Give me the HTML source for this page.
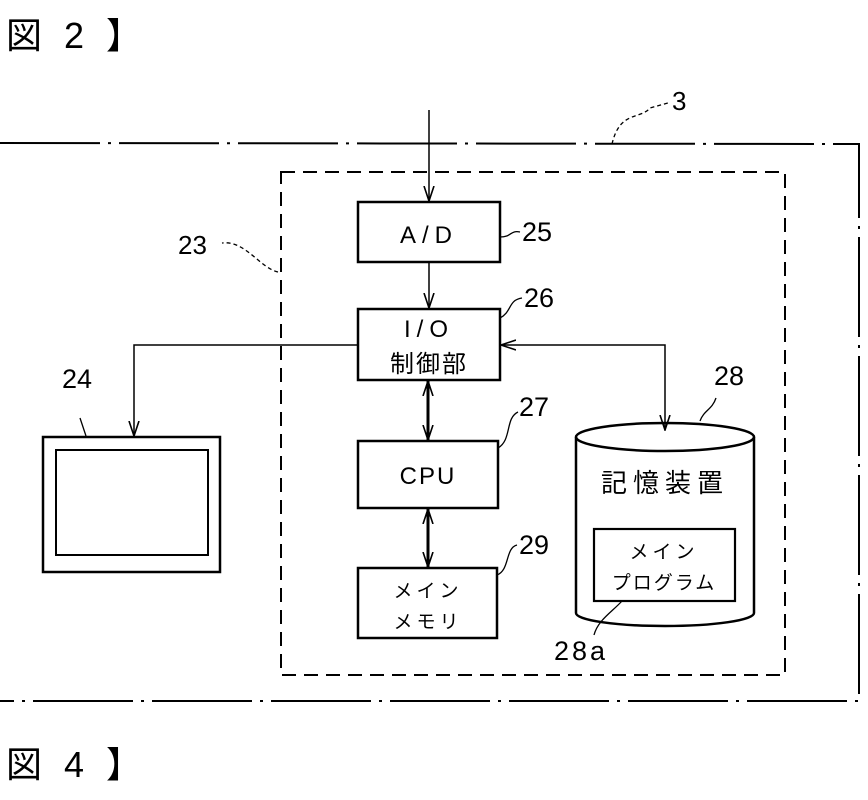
<!DOCTYPE html>
<html><head><meta charset="utf-8"><style>
body{margin:0;background:#fff;}
svg text{font-family:"Liberation Sans","Noto Sans CJK JP",sans-serif;fill:#000;}
</style></head><body>
<svg width="868" height="795" viewBox="0 0 868 795" xmlns="http://www.w3.org/2000/svg">
<defs><marker id="a" markerWidth="16" markerHeight="12" refX="15" refY="6" orient="auto-start-reverse" markerUnits="userSpaceOnUse"><path d="M0,1 L15,6 L0,11" fill="none" stroke="#000" stroke-width="1.6"/></marker></defs>
<text x="6" y="48" font-size="36" letter-spacing="6">図 2 】</text>
<text x="6" y="777" font-size="36" letter-spacing="6">図 4 】</text>
<polyline points="0,143 859,144 859,701 0,701" fill="none" stroke="#000" stroke-width="2" stroke-dasharray="100,8,3,8"/>
<path d="M612,144 C620,110 640,120 650,108 L668,103" fill="none" stroke="#000" stroke-width="1.3" stroke-dasharray="4,3"/>
<text x="672" y="110" font-size="26">3</text>
<rect x="281" y="172" width="504" height="503" fill="none" stroke="#000" stroke-width="2" stroke-dasharray="14,8"/>
<path d="M278,272 C260,268 245,240 222,243" fill="none" stroke="#000" stroke-width="1.3" stroke-dasharray="4,3"/>
<text x="178" y="254" font-size="26">23</text>
<g fill="none" stroke="#000" stroke-width="2.5">
<rect x="358" y="202" width="142" height="60"/>
<rect x="358" y="309" width="142" height="71"/>
<rect x="358" y="441" width="140" height="67"/>
<rect x="358" y="568" width="139" height="70"/>
<rect x="43" y="437" width="177" height="135"/>
<rect x="56" y="450" width="152" height="105" stroke-width="2"/>
<rect x="594" y="529" width="141" height="72" stroke-width="2.2"/>
<path d="M576,437 L576,613 A89,13 0 0 0 754,613 L754,437"/>
<ellipse cx="665" cy="437" rx="89" ry="14"/>
</g>
<text x="429" y="243" font-size="24" text-anchor="middle" letter-spacing="6">A/D</text>
<text x="429" y="337" font-size="24" text-anchor="middle" letter-spacing="6">I/O</text>
<text x="429" y="372" font-size="24" text-anchor="middle" letter-spacing="2">制御部</text>
<text x="428" y="484" font-size="24" text-anchor="middle" letter-spacing="2">CPU</text>
<text x="428" y="597" font-size="19" text-anchor="middle" letter-spacing="4">メイン</text>
<text x="428" y="628" font-size="19" text-anchor="middle" letter-spacing="4">メモリ</text>
<text x="665" y="492" font-size="26" text-anchor="middle" letter-spacing="6">記憶装置</text>
<text x="664" y="558" font-size="19" text-anchor="middle" letter-spacing="4">メイン</text>
<text x="664" y="589" font-size="19" text-anchor="middle" letter-spacing="2">プログラム</text>
<g fill="none" stroke="#000">
<line x1="429" y1="110" x2="429" y2="201" stroke-width="1.5" marker-end="url(#a)"/>
<line x1="429" y1="262" x2="429" y2="308" stroke-width="1.5" marker-end="url(#a)"/>
<polyline points="358,345 134,345 134,436" stroke-width="1.5" marker-end="url(#a)"/>
<polyline points="501,345 665,345 665,430" stroke-width="1.5" marker-start="url(#a)" marker-end="url(#a)"/>
<line x1="428" y1="381" x2="428" y2="440" stroke-width="3" marker-start="url(#a)" marker-end="url(#a)"/>
<line x1="428" y1="509" x2="428" y2="567" stroke-width="3" marker-start="url(#a)" marker-end="url(#a)"/>
<g stroke-width="1.3">
<path d="M500,237 C512,237 510,230 520,232"/>
<path d="M500,318 C512,312 508,300 522,298"/>
<path d="M498,448 C512,440 505,418 518,412"/>
<path d="M497,575 C510,570 505,548 517,545"/>
<path d="M700,421 C704,410 712,410 716,398"/>
<path d="M622,601 C612,612 598,620 594,635"/>
<path d="M86,436 L80,418"/>
</g>
</g>
<text x="522" y="241" font-size="27">25</text>
<text x="524" y="307" font-size="27">26</text>
<text x="519" y="416" font-size="27">27</text>
<text x="519" y="554" font-size="27">29</text>
<text x="714" y="385" font-size="27">28</text>
<text x="554" y="660" font-size="27" letter-spacing="3">28a</text>
<text x="62" y="388" font-size="27">24</text>
</svg>
</body></html>
